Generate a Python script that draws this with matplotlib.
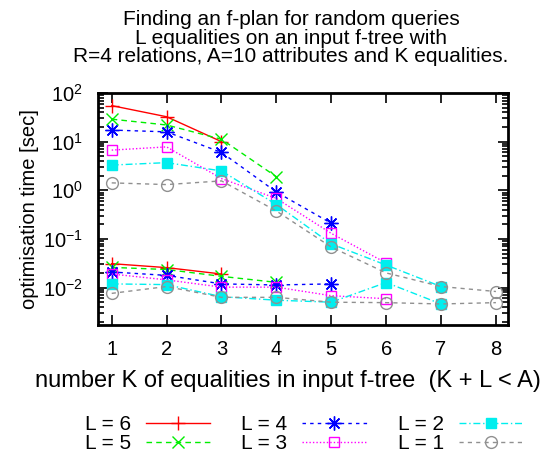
import matplotlib
matplotlib.use("Agg")
import matplotlib.pyplot as plt
from matplotlib.ticker import LogLocator, NullFormatter

plt.rcParams['font.family'] = ['Liberation Sans', 'DejaVu Sans']
plt.rcParams['mathtext.fontset'] = 'custom'
plt.rcParams['mathtext.rm'] = 'Liberation Sans'

# number K of equalities in the input f-tree
K = [1, 2, 3, 4, 5, 6, 7, 8]
L_values = [6, 5, 4, 3, 2, 1]

# slow group of timings (seconds), one list per L, starting at K = 1
upper = {
    6: [55, 32.5, 10],
    5: [29, 22, 11.2, 1.9],
    4: [17.3, 15.9, 6.0, 0.92, 0.21],
    3: [6.7, 7.8, 1.74, 0.68, 0.13, 0.032],
    2: [3.3, 3.7, 2.5, 0.51, 0.079, 0.029, 0.0105],
    1: [1.42, 1.31, 1.56, 0.375, 0.068, 0.02, 0.0105, 0.0083],
}
# fast group of timings (seconds)
lower = {
    6: [0.031, 0.0257, 0.019],
    5: [0.026, 0.0235, 0.017, 0.0128],
    4: [0.0209, 0.0178, 0.0119, 0.0113, 0.0119],
    3: [0.019, 0.0144, 0.0102, 0.0102, 0.0068, 0.0059],
    2: [0.0119, 0.0115, 0.0065, 0.0055, 0.005, 0.0127, 0.0046],
    1: [0.0076, 0.0105, 0.0063, 0.0063, 0.005, 0.0049, 0.0046, 0.0049],
}

styles = {
    6: dict(color='#ff0000', ls='-', marker='+', ms=10, mfc='none'),
    5: dict(color='#00ee00', ls=(0, (4, 3)), marker='x', ms=8.5, mfc='none'),
    4: dict(color='#0000ff', ls=(0, (2.5, 3)), marker=(8, 2, 0), ms=10, mfc='none'),
    3: dict(color='#ff00ff', ls=(0, (1, 1.5)), marker='s', ms=7.5, mfc='none'),
    2: dict(color='#00eeee', ls=(0, (5, 2, 1, 2)), marker='s', ms=7.5, mfc='#00eeee'),
    1: dict(color='#909090', ls=(0, (3, 3)), marker='o', ms=8.5, mfc='none'),
}

fig = plt.figure(figsize=(5.44, 4.57), dpi=100)
ax = fig.add_axes([98 / 544, 1 - 325 / 457, 410 / 544, 232 / 457])

handles = []
for L in L_values:
    st = styles[L]
    common = dict(color=st['color'], linestyle=st['ls'], linewidth=1,
                  marker=st['marker'], markersize=st['ms'],
                  markerfacecolor=st['mfc'], markeredgecolor=st['color'],
                  markeredgewidth=1)
    h, = ax.plot(K[:len(upper[L])], upper[L], label=f'L = {L}', **common)
    ax.plot(K[:len(lower[L])], lower[L], **common)
    handles.append(h)

ax.set_yscale('log')
ax.set_xlim(0.75, 8.22)
ax.set_ylim(0.0017, 100)
ax.set_xticks(K)
ax.yaxis.set_major_locator(LogLocator(base=10, numticks=10))
ax.yaxis.set_minor_locator(LogLocator(base=10, subs=range(2, 10), numticks=10))
ax.yaxis.set_minor_formatter(NullFormatter())
ax.tick_params(which='both', direction='in', top=True, right=True,
               labelsize=14.5, width=1.2)
ax.tick_params(which='major', length=7, pad=11)
ax.tick_params(which='minor', length=4)
ax.tick_params(axis='x', which='minor', top=False, bottom=False)
for sp in ax.spines.values():
    sp.set_linewidth(2)

ax.set_ylabel('optimisation time [sec]', fontsize=14.5, labelpad=3)
fig.text(288 / 544, 1 - 381 / 457,
         'number K of equalities in input f-tree  (K + L < A)',
         ha='center', va='center', fontsize=17)

fig.text(291 / 544, 1 - 38 / 457,
         'Finding an f-plan for random queries\n'
         'L equalities on an input f-tree with\n'
         'R=4 relations, A=10 attributes and K equalities.',
         ha='center', va='center', fontsize=15, linespacing=0.95)

fig.legend(handles=handles, loc='center', ncol=3, markerfirst=False,
           bbox_to_anchor=(304 / 544, 1 - 434 / 457), frameon=False,
           fontsize=15, handlelength=3.1, handletextpad=0.7,
           columnspacing=1.5, labelspacing=0.0, borderpad=0.1)

fig.savefig('out.png', dpi=100)
